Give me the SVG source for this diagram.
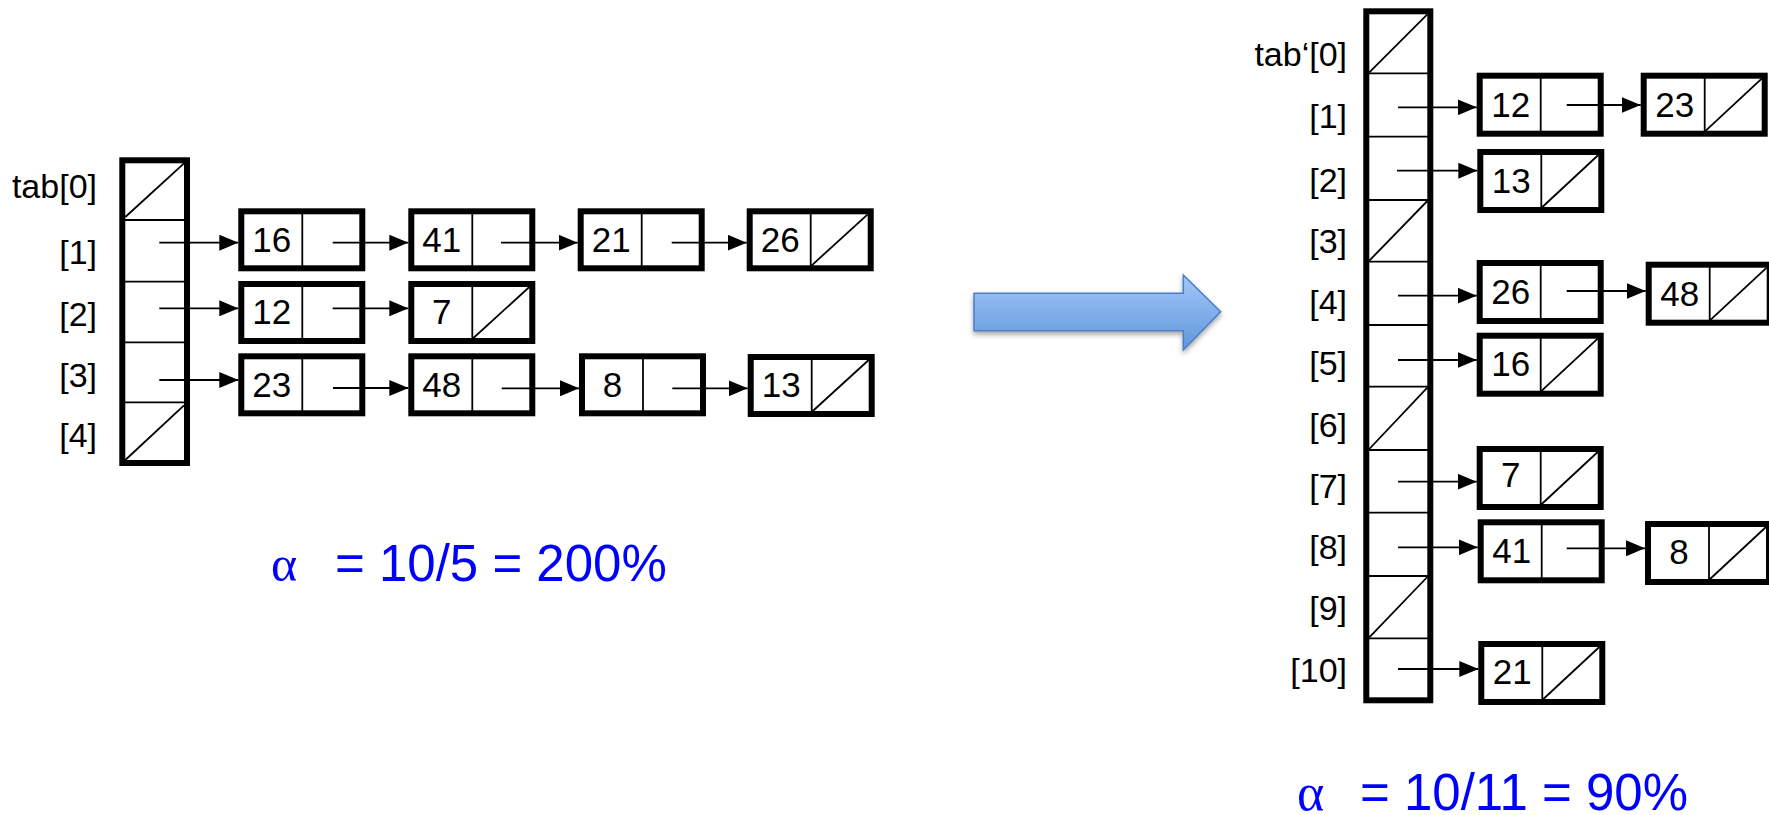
<svg xmlns="http://www.w3.org/2000/svg" width="1769" height="815" viewBox="0 0 1769 815">
  <defs>
    <marker id="ah" markerUnits="userSpaceOnUse" markerWidth="19" markerHeight="16" refX="19" refY="8" orient="auto" viewBox="0 0 19 16">
      <path d="M0,0 L19,8 L0,16 z" fill="#000"/>
    </marker>
    <linearGradient id="blueFill" x1="0" y1="0" x2="0" y2="1">
      <stop offset="0" stop-color="#a3c8f8"/>
      <stop offset="1" stop-color="#5f96dd"/>
    </linearGradient>
    <filter id="soft" x="-10%" y="-20%" width="120%" height="160%">
      <feDropShadow dx="0" dy="3" stdDeviation="2.5" flood-color="#000" flood-opacity="0.35"/>
    </filter>
  </defs>
  <style>
    .thick { fill: #fff; stroke: #000; stroke-width: 6; }
    .thin { stroke: #000; stroke-width: 1.8; fill: none; }
    .num { font-family: "Liberation Sans", Arial, sans-serif; font-size: 35px; text-anchor: middle; fill: #000; }
    .numR { font-family: "Liberation Sans", Arial, sans-serif; font-size: 35px; text-anchor: middle; fill: #000; }
    .lbl { font-family: "Liberation Sans", Arial, sans-serif; font-size: 34px; text-anchor: end; fill: #000; }
    .lblR { font-family: "Liberation Sans", Arial, sans-serif; font-size: 34px; text-anchor: end; fill: #000; }
    .ptr { stroke: #000; stroke-width: 1.8; fill: none; marker-end: url(#ah); }
    .load { font-family: "Liberation Sans", Arial, sans-serif; fill: #0000ff; }
    .alpha { font-family: "Liberation Serif", "Times New Roman", serif; fill: #0000ff; }
  </style>
  <rect width="1769" height="815" fill="#fff"/>

  <!-- hash table with 5 buckets -->
  <g id="table-left">
    <rect class="thick" x="122.3" y="160.3" width="64.7" height="302.7"/>
    <line class="thin" x1="122.3" y1="220" x2="187" y2="220"/>
    <line class="thin" x1="122.3" y1="281.7" x2="187" y2="281.7"/>
    <line class="thin" x1="122.3" y1="342.3" x2="187" y2="342.3"/>
    <line class="thin" x1="122.3" y1="402.3" x2="187" y2="402.3"/>
    <line class="thin" x1="125.3" y1="217" x2="184" y2="163.3"/>
    <line class="thin" x1="125.3" y1="460" x2="184" y2="405.3"/>
    <text class="lbl" x="97" y="198">tab[0]</text>
    <text class="lbl" x="97" y="264">[1]</text>
    <text class="lbl" x="97" y="326">[2]</text>
    <text class="lbl" x="97" y="387">[3]</text>
    <text class="lbl" x="97" y="447">[4]</text>
  </g>

  <!-- chain nodes of the 5-bucket table -->
  <g id="L-16"><rect class="thick" x="241.3" y="211.3" width="121" height="57"/><line class="thin" x1="302.3" y1="211.3" x2="302.3" y2="268.3"/><text class="num" x="271.8" y="251.5">16</text></g>
  <g id="L-41"><rect class="thick" x="411.3" y="211.3" width="121" height="57"/><line class="thin" x1="472.3" y1="211.3" x2="472.3" y2="268.3"/><text class="num" x="441.8" y="251.5">41</text></g>
  <g id="L-21"><rect class="thick" x="580.7" y="211.3" width="121" height="57"/><line class="thin" x1="641.7" y1="211.3" x2="641.7" y2="268.3"/><text class="num" x="611.2" y="251.5">21</text></g>
  <g id="L-26"><rect class="thick" x="749.7" y="211.3" width="121" height="57"/><line class="thin" x1="810.7" y1="211.3" x2="810.7" y2="268.3"/><line class="thin" x1="810.7" y1="266.3" x2="867.7" y2="214.3"/><text class="num" x="780.2" y="251.5">26</text></g>
  <g id="L-12"><rect class="thick" x="241.3" y="284" width="121" height="57"/><line class="thin" x1="302.3" y1="284" x2="302.3" y2="341"/><text class="num" x="271.8" y="324">12</text></g>
  <g id="L-7"><rect class="thick" x="411.3" y="284" width="121" height="57"/><line class="thin" x1="472.3" y1="284" x2="472.3" y2="341"/><line class="thin" x1="472.3" y1="339" x2="529.3" y2="287"/><text class="num" x="441.8" y="324">7</text></g>
  <g id="L-23"><rect class="thick" x="241.3" y="356.3" width="121" height="57"/><line class="thin" x1="302.3" y1="356.3" x2="302.3" y2="413.3"/><text class="num" x="271.8" y="396.5">23</text></g>
  <g id="L-48"><rect class="thick" x="411.3" y="356.3" width="121" height="57"/><line class="thin" x1="472.3" y1="356.3" x2="472.3" y2="413.3"/><text class="num" x="441.8" y="396.5">48</text></g>
  <g id="L-8"><rect class="thick" x="582" y="356.3" width="121" height="57"/><line class="thin" x1="643" y1="356.3" x2="643" y2="413.3"/><text class="num" x="612.5" y="396.5">8</text></g>
  <g id="L-13"><rect class="thick" x="750.7" y="357" width="121" height="57"/><line class="thin" x1="811.7" y1="357" x2="811.7" y2="414"/><line class="thin" x1="811.7" y1="412" x2="868.7" y2="360"/><text class="num" x="781.2" y="397">13</text></g>

  <!-- load factor, 5 buckets -->
  <g id="load-left">
    <text class="alpha" x="271" y="581" font-size="50">α</text>
    <text class="load" x="335" y="581" font-size="51">= 10/5 = 200%</text>
  </g>

  <!-- rehash arrow -->
  <g id="rehash">
    <polygon points="974,293.3 1183.3,293.3 1183.3,275 1220.7,311.7 1183.3,350 1183.3,330.7 974,330.7" fill="url(#blueFill)" stroke="#4a7ec4" stroke-width="1.5" filter="url(#soft)"/>
  </g>

  <!-- hash table with 11 buckets -->
  <g id="table-right">
    <rect class="thick" x="1366.3" y="11.3" width="64" height="689"/>
    <line class="thin" x1="1366.3" y1="73.3" x2="1430.3" y2="73.3"/>
    <line class="thin" x1="1366.3" y1="136.7" x2="1430.3" y2="136.7"/>
    <line class="thin" x1="1366.3" y1="200" x2="1430.3" y2="200"/>
    <line class="thin" x1="1366.3" y1="261.7" x2="1430.3" y2="261.7"/>
    <line class="thin" x1="1366.3" y1="325" x2="1430.3" y2="325"/>
    <line class="thin" x1="1366.3" y1="386.7" x2="1430.3" y2="386.7"/>
    <line class="thin" x1="1366.3" y1="450" x2="1430.3" y2="450"/>
    <line class="thin" x1="1366.3" y1="512.7" x2="1430.3" y2="512.7"/>
    <line class="thin" x1="1366.3" y1="576" x2="1430.3" y2="576"/>
    <line class="thin" x1="1366.3" y1="638.3" x2="1430.3" y2="638.3"/>
    <line class="thin" x1="1369.3" y1="72.3" x2="1427.3" y2="14.3"/>
    <line class="thin" x1="1369.3" y1="260.7" x2="1427.3" y2="201"/>
    <line class="thin" x1="1369.3" y1="449" x2="1427.3" y2="387.7"/>
    <line class="thin" x1="1369.3" y1="637.3" x2="1427.3" y2="577"/>
    <text class="lblR" x="1347" y="66">tab‘[0]</text>
    <text class="lblR" x="1347" y="128">[1]</text>
    <text class="lblR" x="1347" y="191.5">[2]</text>
    <text class="lblR" x="1347" y="253">[3]</text>
    <text class="lblR" x="1347" y="314">[4]</text>
    <text class="lblR" x="1347" y="375">[5]</text>
    <text class="lblR" x="1347" y="437">[6]</text>
    <text class="lblR" x="1347" y="498">[7]</text>
    <text class="lblR" x="1347" y="559">[8]</text>
    <text class="lblR" x="1347" y="620">[9]</text>
    <text class="lblR" x="1347" y="682">[10]</text>
  </g>

  <!-- chain nodes of the 11-bucket table -->
  <g id="R-12"><rect class="thick" x="1479.7" y="75.7" width="121" height="58"/><line class="thin" x1="1540.7" y1="75.7" x2="1540.7" y2="133.7"/><text class="numR" x="1510.7" y="117">12</text></g>
  <g id="R-23"><rect class="thick" x="1643.7" y="75.7" width="121" height="58"/><line class="thin" x1="1704.7" y1="75.7" x2="1704.7" y2="133.7"/><line class="thin" x1="1704.7" y1="131.7" x2="1761.7" y2="78.7"/><text class="numR" x="1674.7" y="117">23</text></g>
  <g id="R-13"><rect class="thick" x="1480.3" y="152" width="121" height="58"/><line class="thin" x1="1541.3" y1="152" x2="1541.3" y2="210"/><line class="thin" x1="1541.3" y1="208" x2="1598.3" y2="155"/><text class="numR" x="1511.3" y="192.5">13</text></g>
  <g id="R-26"><rect class="thick" x="1479.7" y="263" width="121" height="58"/><line class="thin" x1="1540.7" y1="263" x2="1540.7" y2="321"/><text class="numR" x="1510.7" y="304">26</text></g>
  <g id="R-48"><rect class="thick" x="1648.7" y="264.7" width="121" height="58"/><line class="thin" x1="1709.7" y1="264.7" x2="1709.7" y2="322.7"/><line class="thin" x1="1709.7" y1="320.7" x2="1766.7" y2="267.7"/><text class="numR" x="1679.7" y="305.5">48</text></g>
  <g id="R-16"><rect class="thick" x="1479.7" y="335.7" width="121" height="58"/><line class="thin" x1="1540.7" y1="335.7" x2="1540.7" y2="393.7"/><line class="thin" x1="1540.7" y1="391.7" x2="1597.7" y2="338.7"/><text class="numR" x="1510.7" y="376">16</text></g>
  <g id="R-7"><rect class="thick" x="1479.7" y="449" width="121" height="58"/><line class="thin" x1="1540.7" y1="449" x2="1540.7" y2="507"/><line class="thin" x1="1540.7" y1="505" x2="1597.7" y2="452"/><text class="numR" x="1510.7" y="487">7</text></g>
  <g id="R-41"><rect class="thick" x="1480.7" y="522.3" width="121" height="58"/><line class="thin" x1="1541.7" y1="522.3" x2="1541.7" y2="580.3"/><text class="numR" x="1511.7" y="562.5">41</text></g>
  <g id="R-8"><rect class="thick" x="1648" y="524" width="121" height="58"/><line class="thin" x1="1709" y1="524" x2="1709" y2="582"/><line class="thin" x1="1709" y1="580" x2="1766" y2="527"/><text class="numR" x="1679" y="564">8</text></g>
  <g id="R-21"><rect class="thick" x="1481.3" y="644" width="121" height="58"/><line class="thin" x1="1542.3" y1="644" x2="1542.3" y2="702"/><line class="thin" x1="1542.3" y1="700" x2="1599.3" y2="647"/><text class="numR" x="1512.3" y="684">21</text></g>

  <!-- load factor, 11 buckets -->
  <g id="load-right">
    <text class="alpha" x="1297" y="810" font-size="52">α</text>
    <text class="load" x="1360" y="810" font-size="51">= 10/11 = 90%</text>
  </g>

  <!-- pointers -->
  <g id="connectors">
    <line class="ptr" x1="159.3" y1="242.7" x2="238.3" y2="242.7"/>
    <line class="ptr" x1="332.7" y1="242.7" x2="408.3" y2="242.7"/>
    <line class="ptr" x1="501" y1="242.7" x2="577.7" y2="242.7"/>
    <line class="ptr" x1="671.7" y1="242.7" x2="746.7" y2="242.7"/>
    <line class="ptr" x1="159.3" y1="308.3" x2="238.3" y2="308.3"/>
    <line class="ptr" x1="332.7" y1="308.3" x2="408.3" y2="308.3"/>
    <line class="ptr" x1="159.3" y1="380" x2="238.3" y2="380"/>
    <line class="ptr" x1="333" y1="388" x2="408.3" y2="388"/>
    <line class="ptr" x1="501.7" y1="388.3" x2="579" y2="388.3"/>
    <line class="ptr" x1="672.3" y1="388.3" x2="747.7" y2="388.3"/>

    <line class="ptr" x1="1398" y1="107.3" x2="1476.7" y2="107.3"/>
    <line class="ptr" x1="1566.7" y1="105" x2="1640.7" y2="105"/>
    <line class="ptr" x1="1397" y1="170.7" x2="1477.3" y2="170.7"/>
    <line class="ptr" x1="1398" y1="295.7" x2="1476.7" y2="295.7"/>
    <line class="ptr" x1="1566.7" y1="291" x2="1645.7" y2="291"/>
    <line class="ptr" x1="1398" y1="360" x2="1476.7" y2="360"/>
    <line class="ptr" x1="1398" y1="481.7" x2="1476.7" y2="481.7"/>
    <line class="ptr" x1="1398" y1="547.3" x2="1477.7" y2="547.3"/>
    <line class="ptr" x1="1566.7" y1="548.3" x2="1645" y2="548.3"/>
    <line class="ptr" x1="1398" y1="669" x2="1478.3" y2="669"/>
  </g>
</svg>
